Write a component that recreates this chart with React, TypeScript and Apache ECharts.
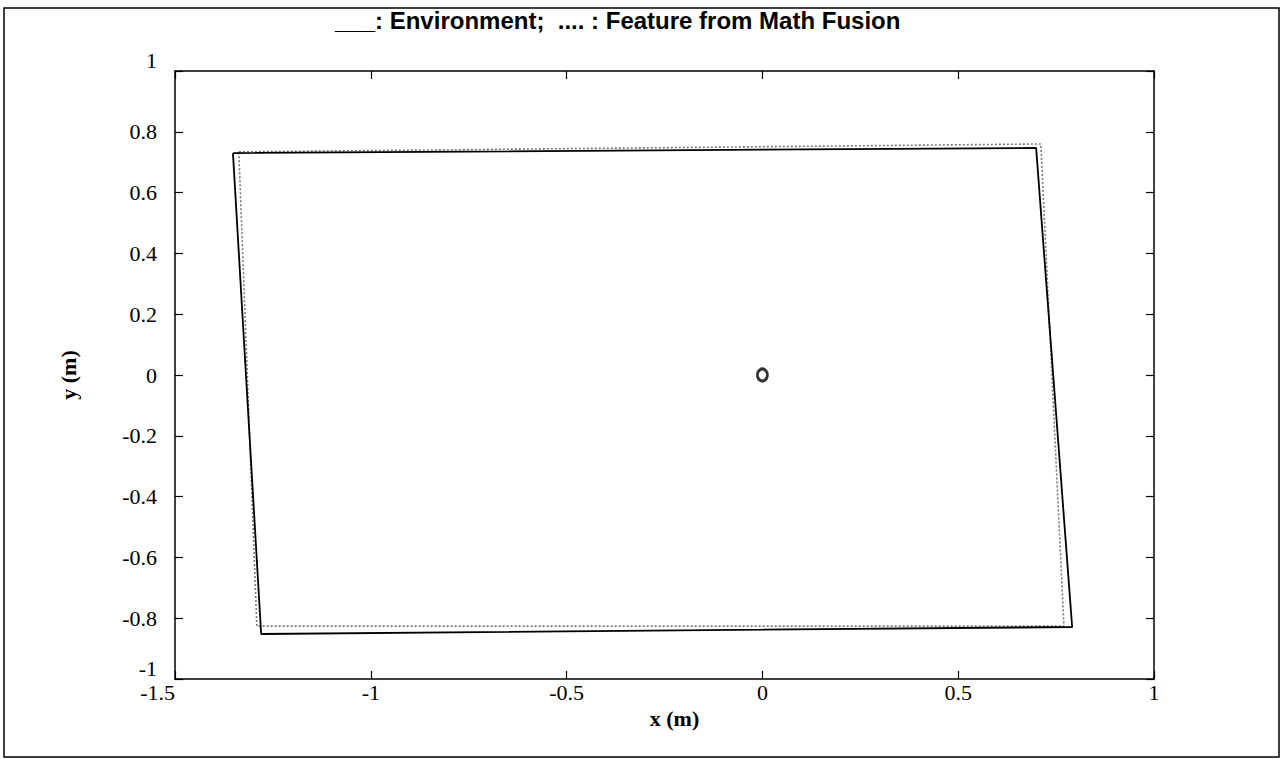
import React, { useEffect, useRef } from "react";
import * as echarts from "echarts";

const envX = [-1.352, 0.699, 0.791, -1.28, -1.352];
const envY = [0.73, 0.747, -0.829, -0.852, 0.73];
const featX = [-1.337, 0.711, 0.77, -1.291, -1.337];
const featY = [0.734, 0.76, -0.826, -0.826, 0.734];
const robotX = [0];
const robotY = [0];
const titleText = "___: Environment;  .... : Feature from Math Fusion";

export default function App() {
  const ref = useRef<HTMLDivElement>(null);
  useEffect(() => {
    const chart = echarts.init(ref.current!, null, { renderer: "svg" });
    const serif = "'Liberation Serif', 'Times New Roman', serif";
    const axisCommon = {
      type: "value" as const,
      axisLine: { show: true, onZero: false, lineStyle: { color: "#000", width: 1.5 } },
      axisTick: { show: true, inside: true, length: 8, lineStyle: { color: "#000", width: 1.2 } },
      splitLine: { show: false },
    };
    chart.setOption({
      animation: false,
      backgroundColor: "#fff",
      grid: { left: 175, top: 71, width: 979, height: 608, show: false },
      graphic: [
        {
          type: "rect",
          shape: { x: 4, y: 8, width: 1275, height: 749 },
          style: { fill: "none", stroke: "#000", lineWidth: 1.5 },
          z: 0,
        },
        {
          type: "text",
          left: 335,
          top: 8,
          style: {
            text: titleText,
            fontFamily: "'Liberation Sans', Arial, sans-serif",
            fontWeight: "bold",
            fontSize: 24,
            fill: "#000",
          },
        },
      ],
      xAxis: [
        {
          ...axisCommon,
          min: -1.5,
          max: 1,
          interval: 0.5,
          position: "bottom",
          axisLabel: {
            color: "#000",
            fontFamily: serif,
            fontSize: 22,
            margin: 2,
            alignMinLabel: "right",
          },
          name: "x (m)",
          nameLocation: "middle",
          nameGap: 27,
          nameTextStyle: {
            color: "#000",
            fontFamily: serif,
            fontSize: 22,
            fontWeight: "bold",
            padding: [0, 0, 0, 20],
          },
        },
        {
          ...axisCommon,
          min: -1.5,
          max: 1,
          interval: 0.5,
          position: "top",
          axisLabel: { show: false },
        },
      ],
      yAxis: [
        {
          ...axisCommon,
          min: -1,
          max: 1,
          interval: 0.2,
          position: "left",
          axisLabel: {
            color: "#000",
            fontFamily: serif,
            fontSize: 22,
            margin: 18,
            verticalAlignMinLabel: "bottom",
            verticalAlignMaxLabel: "bottom",
          },
          name: "y (m)",
          nameLocation: "middle",
          nameGap: 96,
          nameTextStyle: { color: "#000", fontFamily: serif, fontSize: 22, fontWeight: "bold" },
        },
        {
          ...axisCommon,
          min: -1,
          max: 1,
          interval: 0.2,
          position: "right",
          axisLabel: { show: false },
        },
      ],
      series: [
        {
          type: "line",
          name: "Environment",
          data: envX.map((x, i) => [x, envY[i]]),
          showSymbol: false,
          symbol: "none",
          lineStyle: { color: "#000", width: 1.8 },
          z: 3,
        },
        {
          type: "line",
          name: "Feature",
          data: featX.map((x, i) => [x, featY[i]]),
          showSymbol: false,
          symbol: "none",
          lineStyle: { color: "#777", width: 1.6, type: [2, 2] },
          z: 2,
        },
        {
          type: "scatter",
          data: robotX.map((x, i) => [x, robotY[i]]),
          symbol: "circle",
          symbolSize: [10, 12],
          itemStyle: { color: "#fff", borderColor: "#000", borderWidth: 3 },
          z: 4,
        },
      ],
    });
    return () => chart.dispose();
  }, []);
  return (
    <div
      ref={ref}
      style={{ position: "fixed", left: 0, top: 0, width: 1281, height: 759, background: "#fff" }}
    />
  );
}
